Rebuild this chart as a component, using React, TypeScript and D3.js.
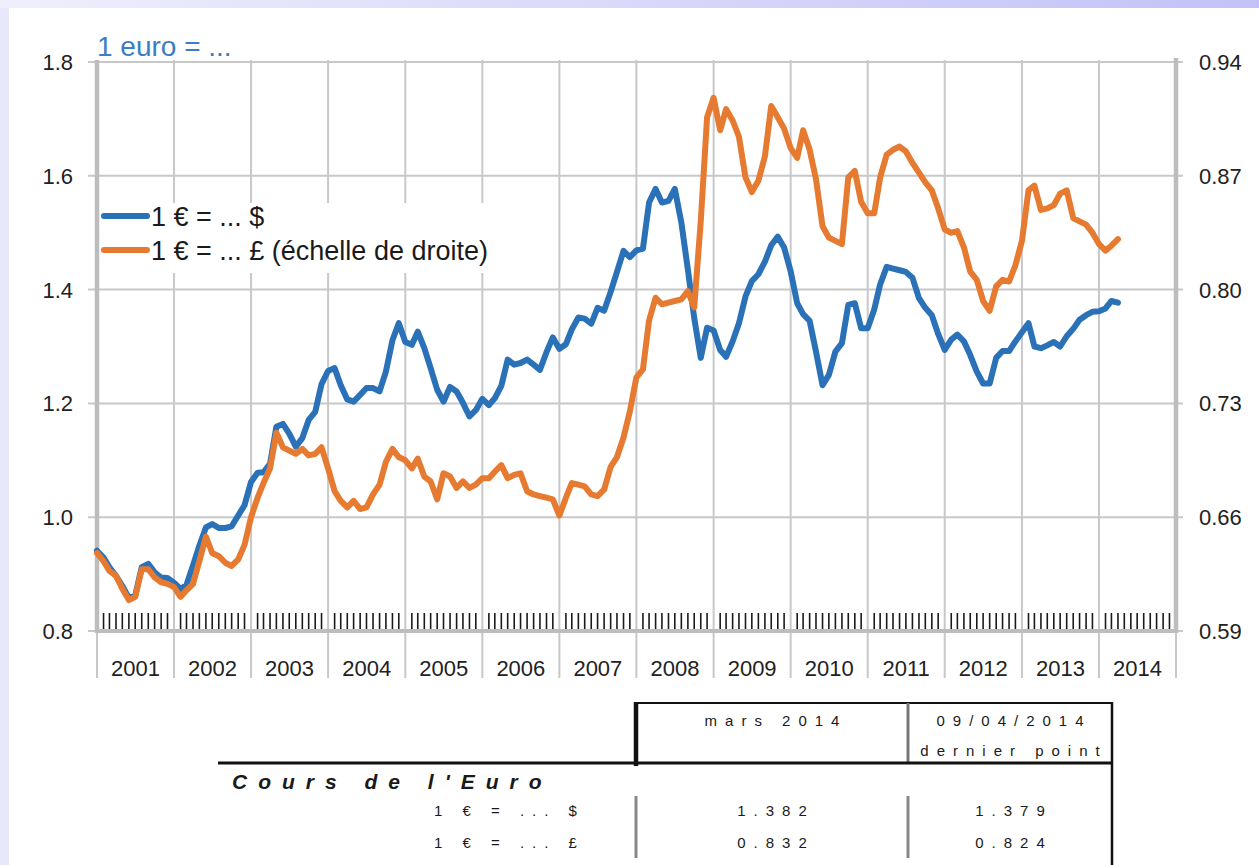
import React, { useEffect, useRef } from 'react';
import * as d3 from 'd3';

const WIDTH = 1259;
const HEIGHT = 865;

// Year columns on the x axis
const years = ['2001', '2002', '2003', '2004', '2005', '2006', '2007', '2008', '2009', '2010', '2011', '2012', '2013', '2014'];

// Left scale (dollar) and right scale (pound)
const usdTicks = [0.8, 1.0, 1.2, 1.4, 1.6, 1.8];
const gbpTicks = [0.59, 0.66, 0.73, 0.8, 0.87, 0.94];

// 1 euro = ... $, monthly from jan 2001
const usdRates = [
  0.941, 0.929, 0.912, 0.897, 0.879, 0.858, 0.862, 0.912, 0.918, 0.903, 0.894, 0.893,
  0.885, 0.874, 0.881, 0.915, 0.950, 0.982, 0.988, 0.981, 0.981, 0.984, 1.003, 1.021,
  1.062, 1.078, 1.079, 1.094, 1.159, 1.164, 1.147, 1.124, 1.139, 1.171, 1.185, 1.234,
  1.257, 1.262, 1.232, 1.207, 1.203, 1.215, 1.227, 1.227, 1.221, 1.256, 1.311, 1.341,
  1.308, 1.303, 1.326, 1.297, 1.262, 1.224, 1.203, 1.229, 1.221, 1.201, 1.177, 1.188,
  1.208, 1.197, 1.209, 1.231, 1.277, 1.268, 1.271, 1.277, 1.268, 1.259, 1.290, 1.316,
  1.296, 1.304, 1.330, 1.351, 1.349, 1.340, 1.368, 1.363, 1.396, 1.431, 1.468, 1.457,
  1.469, 1.472, 1.553, 1.577, 1.553, 1.556, 1.577, 1.518, 1.435, 1.350, 1.280, 1.333,
  1.328, 1.294, 1.282, 1.309, 1.341, 1.388, 1.415, 1.427, 1.449, 1.478, 1.493, 1.474,
  1.432, 1.376, 1.357, 1.345, 1.291, 1.232, 1.250, 1.291, 1.306, 1.373, 1.376, 1.332,
  1.332, 1.365, 1.409, 1.440, 1.437, 1.434, 1.431, 1.421, 1.385, 1.368, 1.355, 1.322,
  1.294, 1.312, 1.321, 1.309, 1.285, 1.256, 1.235, 1.235, 1.280, 1.292, 1.292, 1.309,
  1.325, 1.341, 1.300, 1.297, 1.302, 1.308, 1.300, 1.318, 1.331, 1.347, 1.355, 1.361,
  1.362, 1.367, 1.380, 1.377,
];

// 1 euro = ... £ (right scale), monthly from jan 2001
const gbpRates = [
  0.638, 0.633, 0.627, 0.624, 0.616, 0.609, 0.611, 0.628, 0.628, 0.623, 0.620, 0.619,
  0.617, 0.611, 0.615, 0.619, 0.633, 0.648, 0.638, 0.636, 0.632, 0.630, 0.634, 0.643,
  0.660, 0.672, 0.681, 0.690, 0.712, 0.703, 0.701, 0.699, 0.702, 0.698, 0.699, 0.703,
  0.690, 0.676, 0.670, 0.666, 0.670, 0.665, 0.666, 0.674, 0.680, 0.694, 0.702, 0.697,
  0.695, 0.690, 0.696, 0.685, 0.682, 0.671, 0.687, 0.685, 0.678, 0.682, 0.678, 0.680,
  0.684, 0.684, 0.688, 0.692, 0.684, 0.686, 0.687, 0.676, 0.674, 0.673, 0.672, 0.671,
  0.661, 0.672, 0.681, 0.680, 0.679, 0.674, 0.673, 0.677, 0.691, 0.697, 0.709, 0.725,
  0.746, 0.751, 0.781, 0.795, 0.791, 0.792, 0.793, 0.794, 0.799, 0.789, 0.842, 0.906,
  0.918, 0.898, 0.911, 0.904, 0.894, 0.869, 0.860, 0.867, 0.882, 0.913, 0.906, 0.899,
  0.887, 0.881, 0.898, 0.886, 0.868, 0.839, 0.832, 0.830, 0.828, 0.869, 0.873, 0.854,
  0.847, 0.847, 0.869, 0.883, 0.886, 0.888, 0.885, 0.878, 0.872, 0.866, 0.861, 0.850,
  0.837, 0.835, 0.836, 0.826, 0.811, 0.806, 0.793, 0.787, 0.802, 0.806, 0.805, 0.815,
  0.830, 0.861, 0.864, 0.849, 0.850, 0.852, 0.859, 0.861, 0.844, 0.842, 0.840, 0.835,
  0.828, 0.824, 0.827, 0.831,
];

// Legend and table texts
const legendLabels = ['1 € = ... $', '1 € = ... £ (échelle de droite)'];
const tableHeaders = [['mars 2014'], ['09/04/2014', 'dernier point']];
const tableRows = ['1 € = ... $', '1 € = ... £'];
const marchValues = ['1.382', '0.832'];
const lastValues = ['1.379', '0.824'];

const BLUE = '#2a71b8';
const ORANGE = '#e67a30';
const GRID = '#c8c8c8';
const AXIS = '#bdbdbd';
const FONT = '"Liberation Sans", Arial, sans-serif';

export default function App() {
  const ref = useRef<SVGSVGElement>(null);

  useEffect(() => {
    const svg = d3.select(ref.current);
    svg.selectAll('*').remove();

// Background bands + white sheet
    const defs = svg.append('defs');
    const grad = defs.append('linearGradient').attr('id', 'band').attr('x1', '0%').attr('x2', '100%');
    grad.append('stop').attr('offset', '0%').attr('stop-color', '#efeffc');
    grad.append('stop').attr('offset', '100%').attr('stop-color', '#c2c2f8');
    svg.append('rect').attr('width', WIDTH).attr('height', HEIGHT).attr('fill', 'url(#band)');
    svg.append('rect').attr('x', 0).attr('y', 8).attr('width', 9).attr('height', HEIGHT).attr('fill', '#e8e8fb');
    svg.append('rect').attr('x', 9).attr('y', 8).attr('width', WIDTH - 9).attr('height', HEIGHT - 8).attr('fill', '#fff');

// Scales
    const x = d3.scaleTime().domain([new Date(2001, 0, 1), new Date(2015, 0, 1)]).range([97, 1176]);
    const yL = d3.scaleLinear().domain([0.8, 1.8]).range([631, 62]);
    const yR = d3.scaleLinear().domain([0.59, 0.94]).range([631, 62]);
    const [left, right] = x.range();
    const bottom = yL(0.8);

// Grid
    const grid = svg.append('g');
    grid.selectAll('line.h').data(usdTicks).enter().append('line')
      .attr('x1', left - 9).attr('x2', right + 7)
      .attr('y1', d => yL(d)).attr('y2', d => yL(d))
      .attr('stroke', GRID).attr('stroke-width', 2);
    const yearStarts = d3.range(2001, 2016).map(yr => new Date(yr, 0, 1));
    grid.selectAll('line.v').data(yearStarts).enter().append('line')
      .attr('x1', d => x(d)).attr('x2', d => x(d))
      .attr('y1', yL(1.8) - 2).attr('y2', 678)
      .attr('stroke', GRID).attr('stroke-width', 2);

// Axes
    svg.append('line').attr('x1', left).attr('x2', left).attr('y1', yL(1.8) - 2).attr('y2', bottom + 2)
      .attr('stroke', AXIS).attr('stroke-width', 4.5);
    svg.append('line').attr('x1', right).attr('x2', right).attr('y1', yL(1.8) - 4).attr('y2', bottom + 2)
      .attr('stroke', AXIS).attr('stroke-width', 4.5);
    svg.append('line').attr('x1', left - 2).attr('x2', right + 2).attr('y1', bottom).attr('y2', bottom)
      .attr('stroke', AXIS).attr('stroke-width', 4);

// Monthly tick marks
    const months = d3.timeMonth.range(new Date(2001, 0, 1), new Date(2015, 0, 1)).filter(d => d.getMonth() !== 0);
    svg.append('g').selectAll('line').data(months).enter().append('line')
      .attr('x1', d => x(d)).attr('x2', d => x(d))
      .attr('y1', bottom - 18).attr('y2', bottom - 2)
      .attr('stroke', '#1a1a1a').attr('stroke-width', 1.6);

// Tick labels
    svg.append('g').selectAll('text').data(usdTicks).enter().append('text')
      .attr('x', 73).attr('y', d => yL(d) + 8)
      .attr('text-anchor', 'end').attr('font-family', FONT).attr('font-size', 22).attr('fill', '#222')
      .text(d => d3.format('.1f')(d));
    svg.append('g').selectAll('text').data(gbpTicks).enter().append('text')
      .attr('x', 1199).attr('y', d => yR(d) + 8)
      .attr('font-family', FONT).attr('font-size', 22).attr('fill', '#222')
      .text(d => d3.format('.2f')(d));
    svg.append('g').selectAll('text').data(years).enter().append('text')
      .attr('x', d => (x(new Date(+d, 0, 1)) + x(new Date(+d + 1, 0, 1))) / 2).attr('y', 676)
      .attr('text-anchor', 'middle').attr('font-family', FONT).attr('font-size', 22).attr('fill', '#222')
      .text(d => d);

// Title
    svg.append('text').attr('x', 97).attr('y', 56)
      .attr('font-family', FONT).attr('font-size', 28).attr('fill', '#3b7ec3')
      .text('1 euro = ...');

// Series
    const dateOf = (i: number) => new Date(2001, i, 1);
    const lineL = d3.line<number>().x((d, i) => x(dateOf(i))).y(d => yL(d));
    const lineR = d3.line<number>().x((d, i) => x(dateOf(i))).y(d => yR(d));
    svg.append('path').attr('d', lineL(usdRates)).attr('fill', 'none')
      .attr('stroke', BLUE).attr('stroke-width', 6).attr('stroke-linejoin', 'round').attr('stroke-linecap', 'round');
    svg.append('path').attr('d', lineR(gbpRates)).attr('fill', 'none')
      .attr('stroke', ORANGE).attr('stroke-width', 6).attr('stroke-linejoin', 'round').attr('stroke-linecap', 'round');

// Legend
    const legend = svg.append('g');
    legend.append('rect').attr('x', 100).attr('y', 203).attr('width', 392).attr('height', 70).attr('fill', '#fff');
    [BLUE, ORANGE].forEach((c, i) => {
      const ly = 216 + i * 34;
      legend.append('line').attr('x1', 104).attr('x2', 147).attr('y1', ly).attr('y2', ly)
        .attr('stroke', c).attr('stroke-width', 6).attr('stroke-linecap', 'round');
      legend.append('text').attr('x', 151).attr('y', ly + 10)
        .attr('font-family', FONT).attr('font-size', 27).attr('fill', '#1a1a1a')
        .text(legendLabels[i]);
    });

// Table
    const table = svg.append('g').attr('font-family', FONT).attr('fill', '#1a1a1a');
    const colA = 772;
    const colB = 1010;
    const spaced = (sel: any, ls: number) => sel.attr('letter-spacing', ls).attr('dx', ls / 2);
    table.append('line').attr('x1', 636).attr('x2', 1113).attr('y1', 703).attr('y2', 703).attr('stroke', '#111').attr('stroke-width', 2);
    table.append('line').attr('x1', 636).attr('x2', 636).attr('y1', 702).attr('y2', 766).attr('stroke', '#111').attr('stroke-width', 4.5);
    table.append('line').attr('x1', 908).attr('x2', 908).attr('y1', 703).attr('y2', 762).attr('stroke', '#777').attr('stroke-width', 3);
    table.append('line').attr('x1', 218).attr('x2', 1113).attr('y1', 763).attr('y2', 763).attr('stroke', '#111').attr('stroke-width', 3);
    table.append('line').attr('x1', 1112).attr('x2', 1112).attr('y1', 702).attr('y2', HEIGHT).attr('stroke', '#111').attr('stroke-width', 2.5);
    [636, 908].forEach(cx => {
      table.append('line').attr('x1', cx).attr('x2', cx).attr('y1', 796).attr('y2', 858).attr('stroke', '#888').attr('stroke-width', 3);
    });
    tableHeaders.forEach((lines, ci) => {
      lines.forEach((t, li) => {
        spaced(table.append('text').attr('x', ci === 0 ? colA : colB).attr('y', 726 + li * 30)
          .attr('text-anchor', 'middle').attr('font-size', 15).text(t), 8);
      });
    });
    table.append('text').attr('x', 232).attr('y', 789)
      .attr('font-size', 21).attr('font-style', 'italic').attr('font-weight', 'bold').attr('letter-spacing', 11)
      .text("Cours de l'Euro");
    tableRows.forEach((t, i) => {
      const ry = 816 + i * 32;
      table.append('text').attr('x', 434).attr('y', ry).attr('font-size', 15).attr('letter-spacing', 8)
        .attr('xml:space', 'preserve').style('white-space', 'pre').text(t);
      spaced(table.append('text').attr('x', colA).attr('y', ry).attr('text-anchor', 'middle').attr('font-size', 15).text(marchValues[i]), 8);
      spaced(table.append('text').attr('x', colB).attr('y', ry).attr('text-anchor', 'middle').attr('font-size', 15).text(lastValues[i]), 8);
    });
  }, []);

  return (
    <svg
      ref={ref}
      width={WIDTH}
      height={HEIGHT}
      style={{ position: 'absolute', left: 0, top: 0, display: 'block' }}
    />
  );
}
